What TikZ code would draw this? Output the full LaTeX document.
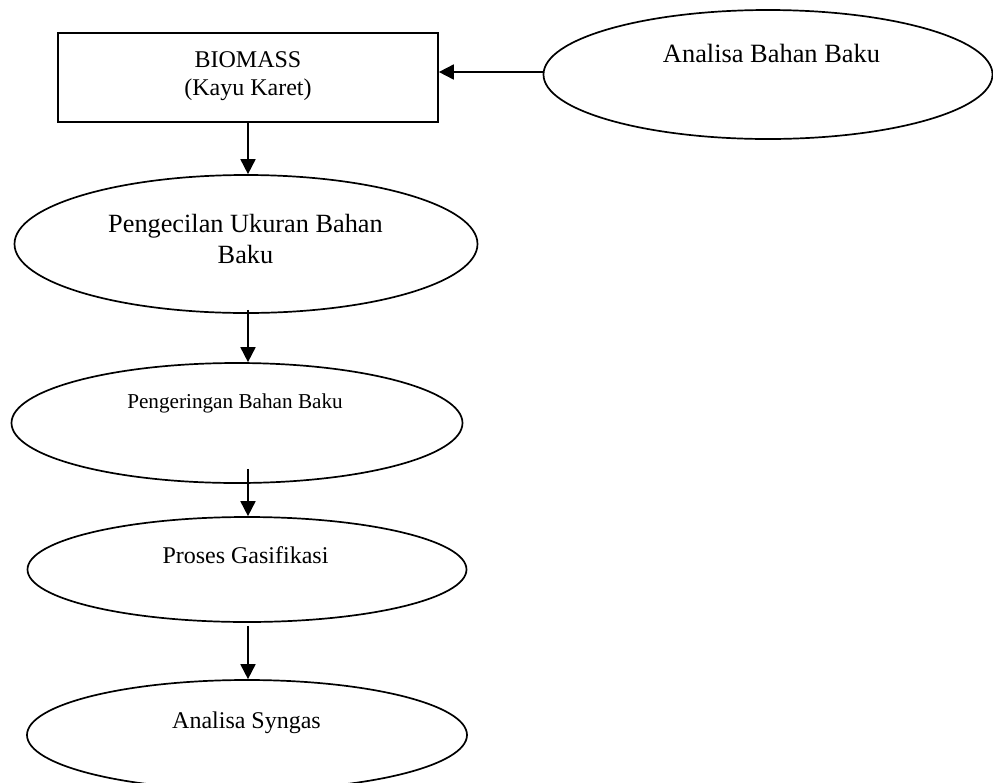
\documentclass[tikz,border=0pt]{standalone}
\usepackage{fontspec}
\setmainfont{Liberation Serif}
\usetikzlibrary{shapes.geometric,arrows.meta}
\tikzset{
  shapeline/.style={draw=black,line width=0.85pt,inner sep=0pt},
  boxnode/.style={shapeline,rectangle,minimum width=190pt,minimum height=44.5pt},
  ovalnode/.style={shapeline,ellipse},
  lbl/.style={anchor=base,inner sep=0pt,text=black},
  flow/.style={line width=0.9pt,-{Triangle[length=7.5pt,width=7.5pt]}}
}
\begin{document}
\begin{tikzpicture}[x=0.5pt,y=-0.5pt]
\useasboundingbox (0,0) rectangle (993,783);
% shapes
\node[boxnode] (bio) at (248,77.5) {};
\node[ovalnode,minimum width=224.5pt,minimum height=64.5pt] (ana) at (768,74.5) {};
\node[ovalnode,minimum width=231.5pt,minimum height=69pt] (kecil) at (246,244) {};
\node[ovalnode,minimum width=225.5pt,minimum height=60pt] (kering) at (237,423) {};
\node[ovalnode,minimum width=219.5pt,minimum height=52.5pt] (gas) at (247,569.5) {};
\node[ovalnode,minimum width=220pt,minimum height=55pt] (syn) at (247,735) {};
% texts
\node[lbl,font=\fontsize{12}{14}\selectfont] (tbio) at (248,67)
  {\begin{tabular}[t]{@{}c@{}}BIOMASS\\(Kayu Karet)\end{tabular}};
\node[lbl,font=\fontsize{13.2}{15.5}\selectfont] (tana) at (771.5,62) {Analisa Bahan Baku};
\node[lbl,font=\fontsize{13.15}{15.5}\selectfont] (tkecil) at (245.5,232)
  {\begin{tabular}[t]{@{}c@{}}Pengecilan Ukuran Bahan\\Baku\end{tabular}};
\node[lbl,font=\fontsize{10.6}{12.5}\selectfont] (tkering) at (235,408) {Pengeringan Bahan Baku};
\node[lbl,font=\fontsize{12}{14}\selectfont] (tgas) at (245.5,563) {Proses Gasifikasi};
\node[lbl,font=\fontsize{12}{14}\selectfont] (tsyn) at (246.5,728) {Analisa Syngas};
% connectors
\draw[flow] (ana.west |- 0,72) -- (bio.east |- 0,72);
\draw[flow] (bio.south) -- (bio.south |- kecil.north);
\draw[flow] ([yshift=2pt]bio.south |- kecil.south) -- (bio.south |- kering.north);
\draw[flow] ([yshift=7.5pt]bio.south |- kering.south) -- (bio.south |- gas.north);
\draw[flow] ([yshift=-1.5pt]bio.south |- gas.south) -- (bio.south |- syn.north);
\end{tikzpicture}
\end{document}
